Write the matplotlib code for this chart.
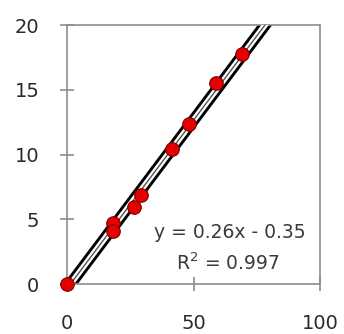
import matplotlib
matplotlib.use("Agg")
import matplotlib.pyplot as plt
import numpy as np

x_vals = [0, 18.1, 18.1, 26.4, 29.3, 41.6, 48.4, 59.0, 69.3]
y_vals = [0, 4.73, 4.09, 5.92, 6.87, 10.42, 12.33, 15.54, 17.74]
slope = 0.26
intercept = -0.35
r2 = 0.997
x_ticks = [0, 50, 100]
y_ticks = [0, 5, 10, 15, 20]

plt.rcParams['font.family'] = ['DejaVu Sans']

fig = plt.figure(figsize=(3.44, 3.34), dpi=100)
ax = fig.add_axes([0.195, 0.1497, 0.735, 0.7753])

xl = np.array([0, 80])
yl = slope * xl + intercept
ax.plot(xl, yl, color='black', lw=8.4, solid_capstyle='butt', zorder=2)
ax.plot(xl, yl, color='white', lw=4.2, solid_capstyle='butt', zorder=3)
ax.plot(xl, yl, color='#555555', lw=1.0, solid_capstyle='butt', zorder=4)

ax.scatter(x_vals, y_vals, s=95, color='#e60000', edgecolor='#7a0000', linewidth=0.8, zorder=5, clip_on=False)

ax.set_xlim(0, 100)
ax.set_ylim(0, 20)
ax.set_xticks(x_ticks)
ax.set_yticks(y_ticks)
for s in ax.spines.values():
    s.set_color('#8c8c8c')
    s.set_linewidth(1.2)
ax.tick_params(axis='both', direction='inout', length=10, width=1.2, color='#8c8c8c',
               labelsize=14, labelcolor='#2a2a2a')
ax.tick_params(axis='x', pad=16.5)
ax.tick_params(axis='y', pad=15)

ax.text(64.5, 4.0, 'y = 0.26x - 0.35', ha='center', va='center', fontsize=13.5, color='#3a3a3a')
ax.text(63.5, 1.6, 'R$^2$ = 0.997', ha='center', va='center', fontsize=13.5, color='#3a3a3a')

fig.savefig('out.png', dpi=100)
